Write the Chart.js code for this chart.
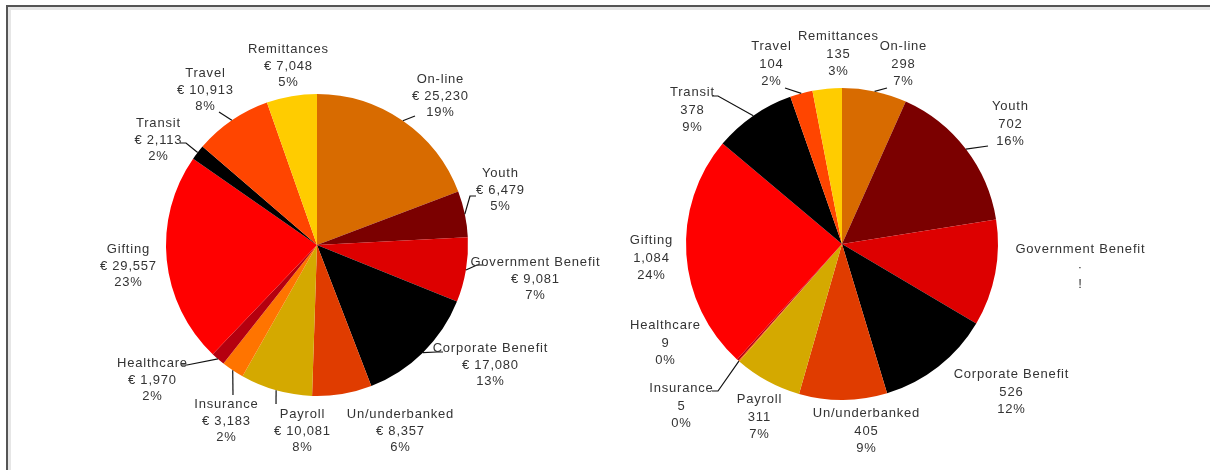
<!DOCTYPE html>
<html>
<head>
<meta charset="utf-8">
<script src="https://cdn.jsdelivr.net/npm/chart.js@4"></script>
<style>
body { margin: 0; background: #fff; width: 1210px; height: 470px; overflow: hidden; position: relative; }
#frame { position: absolute; left: 6px; top: 5px; right: 0; bottom: 0; border-left: 2px solid #555; border-top: 2px solid #555; box-shadow: inset 3px 3px 0 #e6e6e6; }
canvas { position: absolute; top: 0; }
#leftChart { left: 0; }
#rightChart { left: 605px; }
</style>
</head>
<body>
<div id="frame"></div>
<canvas id="leftChart" width="605" height="470"></canvas>
<canvas id="rightChart" width="605" height="470"></canvas>
<script>
// categories, clockwise from 12 o'clock
const categories = ['On-line', 'Youth', 'Government Benefit', 'Corporate Benefit', 'Un/underbanked', 'Payroll',
    'Insurance', 'Healthcare', 'Gifting', 'Transit', 'Travel', 'Remittances'];

// left pie: amounts in euro
const amountValues = [25230, 6479, 9081, 17080, 8357, 10081, 3183, 1970, 29557, 2113, 10913, 7048];
const amountPercents = ['19%', '5%', '7%', '13%', '6%', '8%', '2%', '2%', '23%', '2%', '8%', '5%'];

// right pie: counts (government benefit label is unreadable in the original, value estimated)
const countValues = [298, 702, 490, 526, 405, 311, 5, 9, 1084, 378, 104, 135];
const countValueText = ['298', '702', '·', '526', '405', '311', '5', '9', '1,084', '378', '104', '135'];
const countPercents = ['7%', '16%', '!', '12%', '9%', '7%', '0%', '0%', '24%', '9%', '2%', '3%'];

const sliceColors = ['#D86B00', '#7B0000', '#DD0000', '#000000', '#E03C00', '#D4A900',
    '#FF7400', '#B5000F', '#FF0000', '#000000', '#FF4500', '#FFCC00'];

// label placement (relative to pie centre) and leader line ends (relative to label centre)
const leftLabelOffsets = [[123, -149], [183, -55], [218, 34], [173, 120], [83, 186], [-15, 186],
    [-91, 176], [-165, 135], [-189, 21], [-159, -105], [-112, -155], [-29, -179]];
const leftLeaders = [[-25, 20], [-30, 6], [-58, -14], [-53, -13], null, [-26, -27],
    [7, -26], [35, -15], null, [28, 3], [14, 22], null];

const rightLabelOffsets = [[61, -180], [168, -120], [238, 23], [169, 148], [24, 187], [-83, 173],
    [-161, 162], [-177, 99], [-191, 14], [-150, -134], [-71, -180], [-4, -190]];
const rightLeaders = [[-16, 24], [-22, 22], null, null, null, null,
    [37, -15], null, null, [26, -14], [14, 24], null];

const pieLabels = {
    id: 'pieLabels',
    afterDatasetsDraw(chart, args, opts) {
        const ctx = chart.ctx;
        const arcs = chart.getDatasetMeta(0).data;
        ctx.save();
        ctx.font = '13px "Liberation Sans", Arial, sans-serif';
        ctx.letterSpacing = '0.8px';
        ctx.fillStyle = '#333';
        ctx.textAlign = 'center';
        ctx.textBaseline = 'middle';
        ctx.strokeStyle = '#111';
        ctx.lineWidth = 1.2;
        arcs.forEach((arc, i) => {
            const p = arc.getProps(['x', 'y', 'startAngle', 'endAngle', 'outerRadius'], true);
            const mid = (p.startAngle + p.endAngle) / 2;
            const lx = p.x + opts.offsets[i][0];
            const ly = p.y + opts.offsets[i][1];
            const lead = opts.leaders[i];
            if (lead) {
                const ax = p.x + Math.cos(mid) * p.outerRadius;
                const ay = p.y + Math.sin(mid) * p.outerRadius;
                const ex = lx + lead[0], ey = ly + lead[1];
                ctx.beginPath();
                ctx.moveTo(ax, ay);
                ctx.lineTo(ex, ey);
                if (Math.abs(lead[1]) < 20) ctx.lineTo(ex - Math.sign(lead[0]) * 6, ey);
                ctx.stroke();
            }
            const lines = [chart.data.labels[i], opts.valueText[i], opts.pctText[i]];
            lines.forEach((t, k) => ctx.fillText(t, lx + 0.4, ly + (k - 1) * opts.lineGap));
        });
        ctx.restore();
    }
};

function makePie(id, values, padding, labelOpts) {
    return new Chart(document.getElementById(id), {
        type: 'pie',
        data: {
            labels: categories,
            datasets: [{
                data: values,
                backgroundColor: sliceColors,
                borderWidth: 0
            }]
        },
        options: {
            responsive: false,
            animation: false,
            layout: { padding: padding },
            plugins: {
                legend: { display: false },
                tooltip: { enabled: false },
                pieLabels: labelOpts
            }
        },
        plugins: [pieLabels]
    });
}

makePie('leftChart', amountValues, { left: 166, right: 137, top: 94, bottom: 74 }, {
    offsets: leftLabelOffsets,
    leaders: leftLeaders,
    valueText: amountValues.map(v => '€ ' + v.toLocaleString('en-US')),
    pctText: amountPercents,
    lineGap: 16.5
});

makePie('rightChart', countValues, { left: 81, right: 212, top: 88, bottom: 70 }, {
    offsets: rightLabelOffsets,
    leaders: rightLeaders,
    valueText: countValueText,
    pctText: countPercents,
    lineGap: 17.5
});
</script>
</body>
</html>
